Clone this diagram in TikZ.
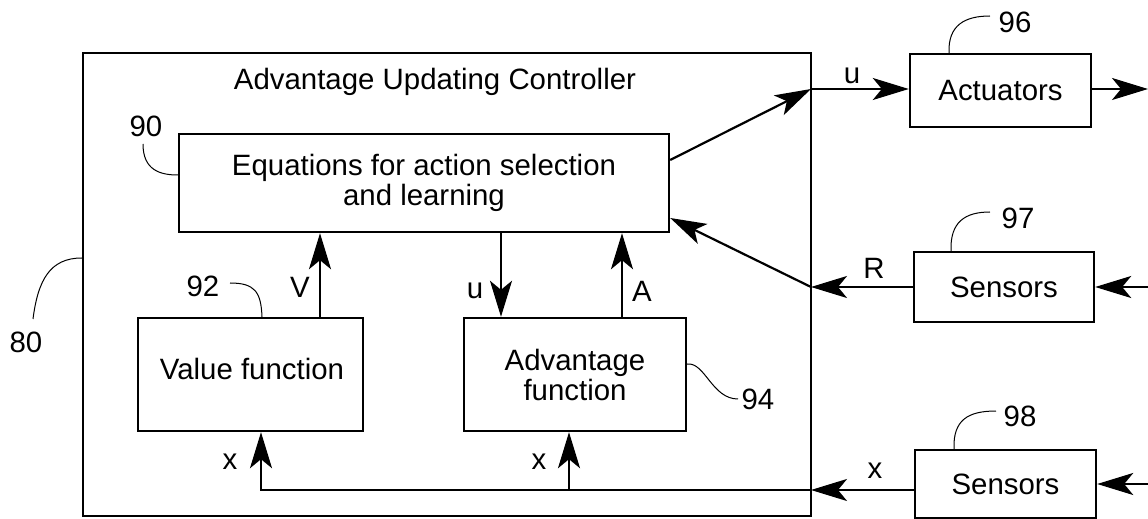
\documentclass[tikz,border=0pt]{standalone}
\usepackage{fontspec}
\setmainfont{Liberation Sans}
\usetikzlibrary{arrows.meta,calc}
\begin{document}
\begin{tikzpicture}[x=0.5pt,y=-0.5pt,
  txt/.style={font=\fontsize{14.7}{15}\selectfont, inner sep=0pt},
  blk/.style={draw, line width=1.2pt, txt, align=center},
  conn/.style={line width=1.1pt},
  arr/.style={conn, -{Stealth[length=18pt,width=11pt,inset=4.5pt]}},
  leader/.style={line width=0.5pt}]
  \useasboundingbox (0,0) rectangle (1148,519);

  % controller frame and title
  \node[blk, minimum width=364pt, minimum height=231.5pt] (ctrl) at (447,284.5) {};
  \node[txt] (title) at (435,82) {Advantage Updating Controller};

  % blocks
  \node[blk, minimum width=245pt, minimum height=49pt] (eq) at (424,183) {Equations for action selection\\and learning};
  \node[blk, minimum width=112.5pt, minimum height=56.5pt] (val) at (250.5,374.5) {};
  \node[txt] (valtxt) at (252,369) {Value function};
  \node[blk, minimum width=111pt, minimum height=56.5pt] (adv) at (575,374.5) {Advantage\\function};
  \node[blk, minimum width=90.5pt, minimum height=36.5pt] (act) at (1000.5,90.5) {Actuators};
  \node[blk, minimum width=90pt, minimum height=35pt] (s97) at (1004,287) {Sensors};
  \node[blk, minimum width=90.5pt, minimum height=34pt] (s98) at (1005.5,484) {Sensors};

  % junctions on the frame and free ends
  \coordinate (J1) at (811,89);
  \coordinate (J2) at (811,287);
  \coordinate (J3) at (811,490);
  \coordinate (bx1) at (261,490);
  \coordinate (bx2) at (569,490);
  \coordinate (vx) at (320,0);
  \coordinate (ux) at (501,0);
  \coordinate (ax) at (622,0);
  \coordinate (out) at (1148,89);
  \coordinate (in97) at (1148,287);
  \coordinate (in98) at (1148,484);

  % action path
  \draw[arr] (eq.east |- 0,160) -- (J1);
  \draw[arr] (J1) -- (act.west |- J1);
  \draw[arr] (act.east |- J1) -- (out);

  % reward path
  \draw[arr] (in97) -- (s97.east);
  \draw[arr] (s97.west) -- (J2);
  \draw[arr] (J2) -- (eq.east |- 0,218);

  % state path
  \draw[arr] (in98) -- (s98.east);
  \draw[arr] (s98.west |- J3) -- (J3);
  \draw[arr] (J3) -- (bx1) -- (val.south -| bx1);
  \draw[arr] (bx2) -- (adv.south -| bx2);

  % internal signals
  \draw[arr] (val.north -| vx) -- (eq.south -| vx);
  \draw[arr] (eq.south -| ux) -- (adv.north -| ux);
  \draw[arr] (adv.north -| ax) -- (eq.south -| ax);

  % signal labels
  \node[txt] (lu1) at (852,76) {u};
  \node[txt] (lR) at (874,268) {R};
  \node[txt] (lx3) at (875,471) {x};
  \node[txt] (lx1) at (230,462) {x};
  \node[txt] (lx2) at (539,462) {x};
  \node[txt] (lV) at (300,287) {V};
  \node[txt] (lu2) at (475,291) {u};
  \node[txt] (lA) at (642,291) {A};

  % reference numerals
  \node[txt] (n80) at (26,342) {80};
  \node[txt] (n90) at (146,126) {90};
  \node[txt] (n92) at (203,286) {92};
  \node[txt] (n94) at (758,399) {94};
  \node[txt] (n96) at (1015,22) {96};
  \node[txt] (n97) at (1018,218) {97};
  \node[txt] (n98) at (1020,416) {98};

  % leader lines
  \draw[leader] (33,319) .. controls (38,280) and (50,258) .. (ctrl.west |- 0,258);
  \draw[leader] (143,144) .. controls (143,170) and (160,175) .. (eq.west |- 0,175);
  \draw[leader] (230,283) .. controls (255,283) and (261,292) .. (val.north -| 262,0);
  \draw[leader] (adv.east |- 0,364) .. controls (705,362) and (712,399) .. (738,399);
  \draw[leader] (act.north -| 949,0) .. controls (948,25) and (965,16) .. (990,16);
  \draw[leader] (s97.north -| 951,0) .. controls (950,222) and (965,212) .. (990,212);
  \draw[leader] (s98.north -| 954,0) .. controls (953,420) and (968,411) .. (996,411);
\end{tikzpicture}
\end{document}
